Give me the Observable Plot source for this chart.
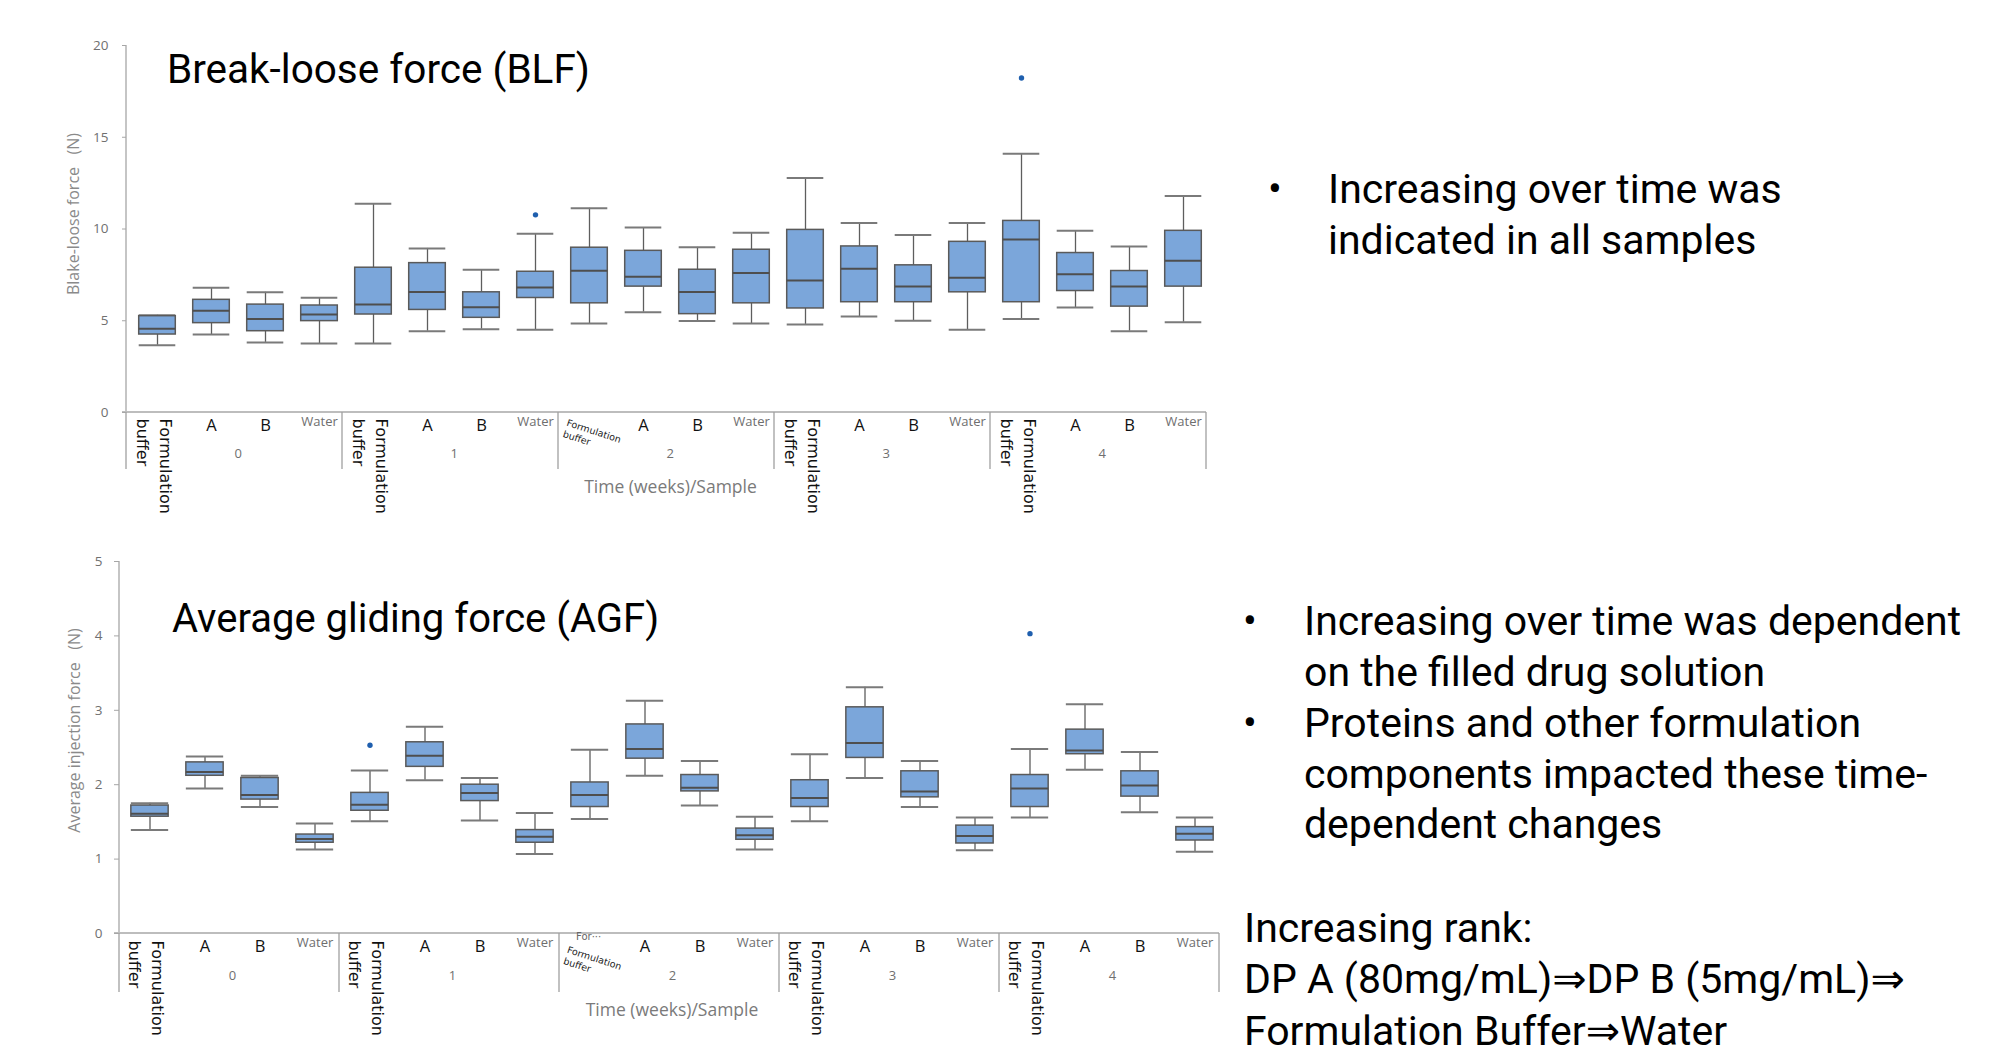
<!DOCTYPE html>
<html><head><meta charset="utf-8">
<script src="https://cdn.jsdelivr.net/npm/d3@7"></script>
<script src="https://cdn.jsdelivr.net/npm/@observablehq/plot@0.6"></script>
<style>
html,body{margin:0;padding:0;background:#fff;}
#page{position:relative;width:1989px;height:1054px;overflow:hidden;background:#fff;}
#blf,#agf{position:absolute;left:0;}
#blf{top:0;} #agf{top:520px;}
#notes{position:absolute;left:0;top:0;pointer-events:none;}
</style></head><body>
<div id="page"><div id="blf"></div><div id="agf"></div><svg id="notes" width="1989" height="1054"></svg></div>
<script>
// ---------- categories ----------
const weeks = ["0", "1", "2", "3", "4"];
const samples = ["Formulation buffer", "A", "B", "Water"];

// ---------- Break-loose force (N): per week, per sample (FB, A, B, Water) ----------
const blfMin = [3.66, 4.25, 3.82, 3.76, 3.76, 4.43, 4.54, 4.51, 4.85, 5.47, 4.99, 4.85, 4.80, 5.23, 5.00, 4.51, 5.10, 5.72, 4.43, 4.92];
const blfQ1  = [4.25, 4.87, 4.43, 4.98, 5.34, 5.59, 5.16, 6.24, 5.95, 6.86, 5.36, 5.95, 5.67, 6.01, 6.01, 6.55, 6.01, 6.62, 5.77, 6.86];
const blfMed = [4.56, 5.54, 5.10, 5.34, 5.88, 6.57, 5.74, 6.81, 7.73, 7.40, 6.57, 7.60, 7.19, 7.84, 6.86, 7.35, 9.43, 7.53, 6.86, 8.27];
const blfQ3  = [5.25, 6.14, 5.88, 5.83, 7.89, 8.14, 6.55, 7.67, 8.98, 8.81, 7.78, 8.87, 9.95, 9.05, 8.02, 9.30, 10.44, 8.69, 7.71, 9.90];
const blfMax = [5.30, 6.80, 6.55, 6.26, 11.37, 8.94, 7.78, 9.74, 11.13, 10.08, 9.00, 9.79, 12.78, 10.33, 9.67, 10.33, 14.10, 9.90, 9.05, 11.80];
const blfOutWeek = ["1", "4"];
const blfOutSample = ["Water", "Formulation buffer"];
const blfOutValue = [10.77, 18.23];
const blfTicks = [0, 5, 10, 15, 20];

// ---------- Average gliding force (N) ----------
const agfMin = [1.39, 1.95, 1.70, 1.13, 1.51, 2.06, 1.52, 1.07, 1.54, 2.12, 1.72, 1.13, 1.51, 2.09, 1.70, 1.12, 1.56, 2.20, 1.63, 1.10];
const agfQ1  = [1.57, 2.12, 1.80, 1.22, 1.65, 2.24, 1.78, 1.22, 1.70, 2.35, 1.91, 1.26, 1.70, 2.36, 1.83, 1.21, 1.70, 2.41, 1.84, 1.25];
const agfMed = [1.61, 2.17, 1.86, 1.27, 1.73, 2.39, 1.89, 1.30, 1.86, 2.48, 1.96, 1.32, 1.82, 2.56, 1.91, 1.31, 1.95, 2.46, 1.99, 1.34];
const agfQ3  = [1.72, 2.30, 2.09, 1.33, 1.89, 2.57, 2.00, 1.39, 2.03, 2.81, 2.13, 1.41, 2.06, 3.04, 2.18, 1.45, 2.13, 2.74, 2.18, 1.43];
const agfMax = [1.75, 2.38, 2.12, 1.48, 2.19, 2.78, 2.09, 1.62, 2.47, 3.13, 2.32, 1.57, 2.41, 3.31, 2.32, 1.56, 2.48, 3.08, 2.44, 1.56];
const agfOutWeek = ["1", "4"];
const agfOutSample = ["Formulation buffer", "Formulation buffer"];
const agfOutValue = [2.53, 4.03];
const agfTicks = [0, 1, 2, 3, 4, 5];

// ---------- texts ----------
const blfTitle = "Break-loose force (BLF)";
const agfTitle = "Average gliding force (AGF)";
const blfYLabel = "Blake-loose force\u00a0\u00a0\u00a0(N)";
const agfYLabel = "Average injection force\u00a0\u00a0\u00a0(N)";
const xLabel = "Time (weeks)/Sample";
const truncatedLabel = "For\u00b7\u00b7\u00b7";
const blfNotes = ["Increasing over time was", "indicated in all samples"];
const agfNote1 = ["Increasing over time was dependent", "on the filled drug solution"];
const agfNote2 = ["Proteins and other formulation", "components impacted these time-", "dependent changes"];
const rankNotes = ["Increasing rank:", "DP A (80mg/mL)\u21d2DP B (5mg/mL)\u21d2", "Formulation Buffer\u21d2Water"];

// ---------- build ----------
const keyOf = (w, s) => `${w}|${s}`;
const keys = weeks.flatMap(w => samples.map(s => keyOf(w, s)));
const cats = weeks.flatMap(w => samples.map(s => ({week: w, sample: s, key: keyOf(w, s)})));

function boxRows(mn, q1, md, q3, mx) {
  return cats.map((c, i) => ({...c, min: mn[i], q1: q1[i], med: md[i], q3: q3[i], max: mx[i]}));
}
function outRows(ws, ss, vs) {
  return vs.map((v, i) => ({key: keyOf(ws[i], ss[i]), value: v}));
}

const BOX_FILL = "#7ba6da";
const BOX_STROKE = "#5a5a5a";
const WHISK = "#5e5e5e";
const CAP = "#7a7a7a";

function makeChart(cfg) {
  const {width, height, ml, mr, mt, mb, rows, outs, ticks, yLabel} = cfg;
  const step = (width - ml - mr) / keys.length;
  const inset = step * 0.16;
  const fbVertical = cats.filter(c => c.sample === "Formulation buffer" && c.week !== "2");
  const fbTilted = cats.filter(c => c.sample === "Formulation buffer" && c.week === "2");
  const letters = cats.filter(c => c.sample === "A" || c.sample === "B");
  const waters = cats.filter(c => c.sample === "Water");
  const marks = [
    Plot.axisY({ticks, tickFormat: d => String(d), tickSize: cfg.tickSize, tickPadding: cfg.tickPadding, stroke: "#a6a6a6", fill: "#707070", fontSize: 13.5, label: null}),
    Plot.ruleX(rows, {x: "key", y1: "min", y2: "q1", stroke: WHISK, strokeWidth: 1.3}),
    Plot.ruleX(rows, {x: "key", y1: "q3", y2: "max", stroke: WHISK, strokeWidth: 1.3}),
    Plot.tickY(rows, {x: "key", y: "min", insetLeft: inset, insetRight: inset, stroke: CAP, strokeWidth: 2}),
    Plot.tickY(rows, {x: "key", y: "max", insetLeft: inset, insetRight: inset, stroke: CAP, strokeWidth: 2}),
    Plot.barY(rows, {x: "key", y1: "q1", y2: "q3", fill: BOX_FILL, stroke: BOX_STROKE, strokeWidth: 1.5, insetLeft: inset, insetRight: inset}),
    Plot.tickY(rows, {x: "key", y: "med", insetLeft: inset, insetRight: inset, stroke: "#4e4e4e", strokeWidth: 2}),
    Plot.dot(outs, {x: "key", y: "value", r: 2.7, fill: "#1f5fae", stroke: "none"}),
    // sample labels
    Plot.text(fbVertical, {x: "key", frameAnchor: "bottom", text: d => d.sample.replace(" ", "\n"), rotate: 90, textAnchor: "start", lineAnchor: "middle", lineHeight: 1.42, dx: -2, dy: cfg.fbDy, fontSize: 16, fontFamily: "DejaVu Sans, sans-serif", fill: "#111"}),
    Plot.text(fbTilted, {x: "key", frameAnchor: "bottom", text: d => d.sample.replace(" ", "\n"), rotate: 18, textAnchor: "start", lineAnchor: "top", lineHeight: 1.25, dx: -21, dy: cfg.tiltDy, fontSize: 9.5, fontFamily: "DejaVu Sans, sans-serif", fill: "#222"}),
    Plot.text(letters, {x: "key", frameAnchor: "bottom", text: "sample", dy: cfg.letterDy, fontSize: 16.5, fontFamily: "Open Sans, sans-serif", fill: "#111"}),
    Plot.text(waters, {x: "key", frameAnchor: "bottom", text: "sample", dy: cfg.waterDy, fontSize: 13, fontFamily: "Open Sans, sans-serif", fill: "#6e6e6e"}),
    Plot.text(weeks, {x: d => keyOf(d, "B"), frameAnchor: "bottom", text: d => d, dx: -step / 2, dy: cfg.weekDy, fontSize: 13, fontFamily: "Open Sans, sans-serif", fill: "#707070"}),
    Plot.text([xLabel], {frameAnchor: "bottom", textAnchor: "middle", dy: cfg.xLabelDy, fontSize: 17.5, fontFamily: "Open Sans, sans-serif", fill: "#7a7a7a"}),
    Plot.text([yLabel], {frameAnchor: "left", textAnchor: "middle", rotate: -90, dx: cfg.yLabelDx, dy: cfg.yLabelDy, fontSize: 16, fontFamily: "Open Sans, sans-serif", fill: "#8a8a8a"})
  ];
  if (cfg.truncated) {
    marks.push(Plot.text(fbTilted, {x: "key", frameAnchor: "bottom", text: () => truncatedLabel, textAnchor: "start", dx: -14, dy: 6, fontSize: 10, fontFamily: "DejaVu Sans, sans-serif", fill: "#666"}));
  }
  const plot = Plot.plot({
    width, height,
    marginLeft: ml, marginRight: mr, marginTop: mt, marginBottom: mb,
    style: {background: "transparent", overflow: "visible", fontFamily: "Open Sans, sans-serif"},
    x: {type: "band", domain: keys, padding: 0, axis: null},
    y: {domain: [0, ticks[ticks.length - 1]], axis: null},
    marks
  });
  // axis lines and week separators drawn from the plot's own scales
  const xs = plot.scale("x"), ys = plot.scale("y");
  const [x0] = xs.range;
  const yb = ys.range[0], yt = ys.range[1];
  const g = d3.select(plot).insert("g", ":first-child");
  g.append("line").attr("x1", x0).attr("x2", x0).attr("y1", yt).attr("y2", yb).attr("stroke", "#a6a6a6").attr("stroke-width", 1.3);
  g.append("line").attr("x1", x0 - cfg.tickSize).attr("x2", x0 + keys.length * xs.step).attr("y1", yb).attr("y2", yb).attr("stroke", "#bdbdbd").attr("stroke-width", 2);
  for (let k = 0; k <= weeks.length; k++) {
    const xx = x0 + k * samples.length * xs.step;
    g.append("line").attr("x1", xx).attr("x2", xx).attr("y1", yb).attr("y2", yb + cfg.drop).attr("stroke", "#a0a0a0").attr("stroke-width", 1.3);
  }
  return plot;
}

document.getElementById("blf").append(makeChart({
  width: 1250, height: 520, ml: 126, mr: 36, mt: 45, mb: 108,
  rows: boxRows(blfMin, blfQ1, blfMed, blfQ3, blfMax),
  outs: outRows(blfOutWeek, blfOutSample, blfOutValue),
  ticks: blfTicks, yLabel: blfYLabel, tickSize: 4, tickPadding: 14,
  yLabelDx: -53, yLabelDy: -15, fbDy: 6, tiltDy: 5, letterDy: 18, waterDy: 13.5, weekDy: 45, xLabelDy: 80, drop: 57, truncated: false
}));
document.getElementById("agf").append(makeChart({
  width: 1250, height: 534, ml: 119, mr: 26, mt: 41, mb: 121,
  rows: boxRows(agfMin, agfQ1, agfMed, agfQ3, agfMax),
  outs: outRows(agfOutWeek, agfOutSample, agfOutValue),
  ticks: agfTicks, yLabel: agfYLabel, tickSize: 5, tickPadding: 12,
  yLabelDx: -45, yLabelDy: -17, fbDy: 7, tiltDy: 11, letterDy: 18, waterDy: 13, weekDy: 46, xLabelDy: 82, drop: 59, truncated: true
}));

// ---------- annotation text ----------
const notes = d3.select("#notes");
function put(x, y, txt, size, anchor = "start") {
  notes.append("text").attr("x", x).attr("y", y).attr("text-anchor", anchor)
    .attr("font-family", "Roboto, 'DejaVu Sans', sans-serif").attr("font-size", size).attr("fill", "#000").text(txt);
}
const FS = 41;
put(167, 83, blfTitle, 40.5);
put(172, 632, agfTitle, 40);
blfNotes.forEach((t, i) => put(1328, 203 + i * 50.5, t, FS));
put(1275, 203, "\u2022", FS, "middle");
agfNote1.forEach((t, i) => put(1304, 635 + i * 50.7, t, FS));
put(1250, 635, "\u2022", FS, "middle");
agfNote2.forEach((t, i) => put(1304, 737 + i * 50.7, t, FS));
put(1250, 737, "\u2022", FS, "middle");
rankNotes.forEach((t, i) => put(1244, 942 + i * 51.3, t, FS));
</script>
</body></html>
